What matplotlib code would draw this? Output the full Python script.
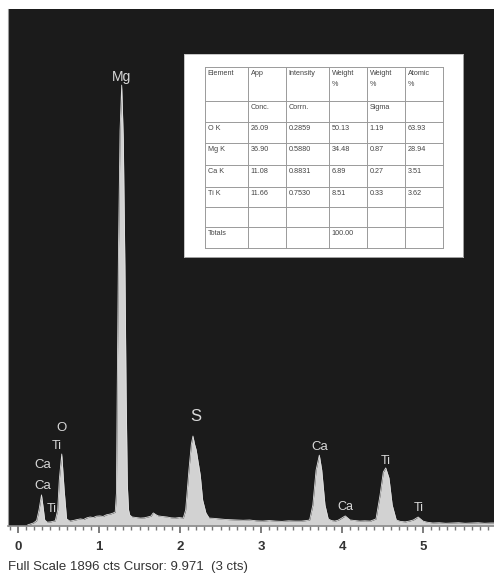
import numpy as np
import matplotlib.pyplot as plt
from matplotlib.ticker import MultipleLocator

# EDS spectrum outline (keV, counts)
energy_kev = [0.12, 0.16, 0.19, 0.23, 0.26, 0.29, 0.31, 0.33, 0.36, 0.40, 0.43, 0.46,
              0.49, 0.51, 0.54, 0.57, 0.60, 0.64, 0.68, 0.72, 0.77, 0.81, 0.85, 0.89,
              0.93, 0.97, 1.01, 1.05, 1.09, 1.14, 1.17, 1.20, 1.215, 1.225, 1.24, 1.26,
              1.28, 1.30, 1.32, 1.335, 1.35, 1.365, 1.38, 1.41, 1.46, 1.51, 1.56, 1.60,
              1.64, 1.67, 1.70, 1.73, 1.78,
              1.84, 1.89, 1.94, 1.99, 2.04, 2.07, 2.11, 2.14, 2.16, 2.18, 2.20, 2.22,
              2.25, 2.28, 2.32, 2.36, 2.42, 2.49, 2.56, 2.63, 2.70, 2.78, 2.86, 2.94,
              3.02, 3.10, 3.18, 3.26, 3.34, 3.42, 3.50, 3.56, 3.60, 3.64, 3.68, 3.72,
              3.75, 3.79, 3.83, 3.87, 3.91, 3.95, 3.98, 4.04, 4.10, 4.16, 4.22, 4.28,
              4.35, 4.42, 4.47, 4.51, 4.54, 4.58, 4.62, 4.67, 4.72, 4.78, 4.83, 4.88,
              4.94, 5.00, 5.05, 5.12, 5.20, 5.28, 5.36, 5.44, 5.52, 5.60, 5.68, 5.76,
              5.84, 5.88]
counts = [4, 8, 11, 20, 60, 114, 70, 22, 14, 15, 17, 19,
          59, 170, 264, 132, 26, 18, 20, 23, 26, 24, 30, 33,
          31, 36, 37, 35, 41, 44, 47, 51, 120, 500, 1000, 1450,
          1617, 1420, 950, 480, 150, 59, 40, 33, 31, 29, 30, 33,
          36, 48, 42, 37, 35,
          33, 30, 29, 31, 29, 59, 205, 300, 330, 300, 279, 242,
          187, 95, 48, 29, 28, 26, 24, 23, 22, 21, 22, 19,
          18, 20, 18, 17, 19, 18, 18, 20, 22, 77, 205, 260,
          205, 77, 26, 20, 18, 21, 26, 37, 22, 20, 18, 19,
          18, 26, 114, 198, 213, 176, 77, 22, 17, 15, 18, 22,
          33, 18, 14, 11, 12, 10, 11, 12, 10, 11, 12, 10,
          11, 11]

full_scale = 1896

# peak labels: (text, keV, counts, font size)
peak_labels = [("Mg", 1.28, 1646, 10), ("O", 0.54, 359, 9.5), ("Ti", 0.48, 293, 9),
               ("Ca", 0.31, 224, 9.5), ("Ca", 0.31, 147, 9.5), ("Ti", 0.41, 62, 9),
               ("S", 2.19, 403, 12), ("Ca", 3.72, 290, 9.5), ("Ca", 4.04, 70, 9),
               ("Ti", 4.54, 238, 9), ("Ti", 4.95, 66, 9)]

# quantification table
table_header = ["Element", "App", "Intensity", "Weight\n%", "Weight\n%", "Atomic\n%"]
table_subheader = ["", "Conc.", "Corrn.", "", "Sigma", ""]
table_elements = ["O K", "Mg K", "Ca K", "Ti K"]
app_conc = ["26.09", "36.90", "11.08", "11.66"]
intensity_corrn = ["0.2859", "0.5880", "0.8831", "0.7530"]
weight_pct = ["50.13", "34.48", "6.89", "8.51"]
weight_sigma = ["1.19", "0.87", "0.27", "0.33"]
atomic_pct = ["63.93", "28.94", "3.51", "3.62"]
weight_total = "100.00"

W, H = 494, 577
fig = plt.figure(figsize=(W / 100, H / 100), dpi=100)
plt.rcParams['font.family'] = ['Liberation Sans', 'DejaVu Sans']

# spectrum panel
x0, x1, ytop, ybase = 8, 494, 9, 526
ax = fig.add_axes([x0 / W, 1 - ybase / H, (x1 - x0) / W, (ybase - ytop) / H])
ax.set_facecolor('#1b1b1b')
kev_per_px = 1 / 81.0
ax.set_xlim((x0 - 18) * kev_per_px, (x1 - 18) * kev_per_px)
ax.set_ylim(0, full_scale)
ax.fill_between(energy_kev, counts, 0, color='#d2d2d2', lw=0)
ax.plot(energy_kev, counts, color='#e0e0e0', lw=0.6)

for txt, e, c, fs in peak_labels:
    ax.text(e, c, txt, color='#d8d8d8', fontsize=fs, ha='center', va='center')

for s in ['top', 'right']:
    ax.spines[s].set_visible(False)
ax.spines['left'].set_color('#9a9a9a')
ax.spines['bottom'].set_color('#8a8a8a')
ax.spines['bottom'].set_linewidth(1.2)
ax.set_yticks([])
ax.xaxis.set_major_locator(MultipleLocator(1))
ax.xaxis.set_minor_locator(MultipleLocator(0.1))
ax.tick_params(axis='x', which='major', length=5, width=1.2, color='#666666',
               labelsize=9.5, labelcolor='#333333', pad=6)
ax.tick_params(axis='x', which='minor', length=3, width=1, color='#777777')
for lab in ax.get_xticklabels():
    lab.set_fontweight('bold')

fig.text(8 / W, 1 - 567 / H, "Full Scale 1896 cts Cursor: 9.971  (3 cts)",
         fontsize=9.5, color='#333333', va='center', ha='left')

# table panel drawn in pixel coordinates
bx0, by0, bx1, by1 = 184, 54, 463, 257
tax = fig.add_axes([bx0 / W, 1 - by1 / H, (bx1 - bx0) / W, (by1 - by0) / H])
tax.set_xlim(bx0, bx1)
tax.set_ylim(by1, by0)
tax.set_facecolor('white')
tax.set_xticks([])
tax.set_yticks([])
for s in tax.spines.values():
    s.set_color('#bbbbbb')
    s.set_linewidth(0.6)

col_edges = [205, 248, 286, 329, 367, 405, 443]
row_edges = [67, 101, 122, 143, 165, 187, 207, 227, 248]
for cx in col_edges:
    tax.plot([cx, cx], [row_edges[0], row_edges[-1]], color='#9a9a9a', lw=0.7)
for ry in row_edges:
    tax.plot([col_edges[0], col_edges[-1]], [ry, ry], color='#9a9a9a', lw=0.7)

body = [[el, a, i, w, s, at] for el, a, i, w, s, at in
        zip(table_elements, app_conc, intensity_corrn, weight_pct, weight_sigma, atomic_pct)]
rows = [table_header, table_subheader] + body + [[""] * 6, ["Totals", "", "", weight_total, "", ""]]
for r, row in enumerate(rows):
    for c, txt in enumerate(row):
        if txt:
            tax.text(col_edges[c] + 2.5, row_edges[r] + 3, txt, fontsize=5.2,
                     color='#444444', va='top', ha='left', linespacing=1.8)

fig.savefig('out.png', dpi=100)
